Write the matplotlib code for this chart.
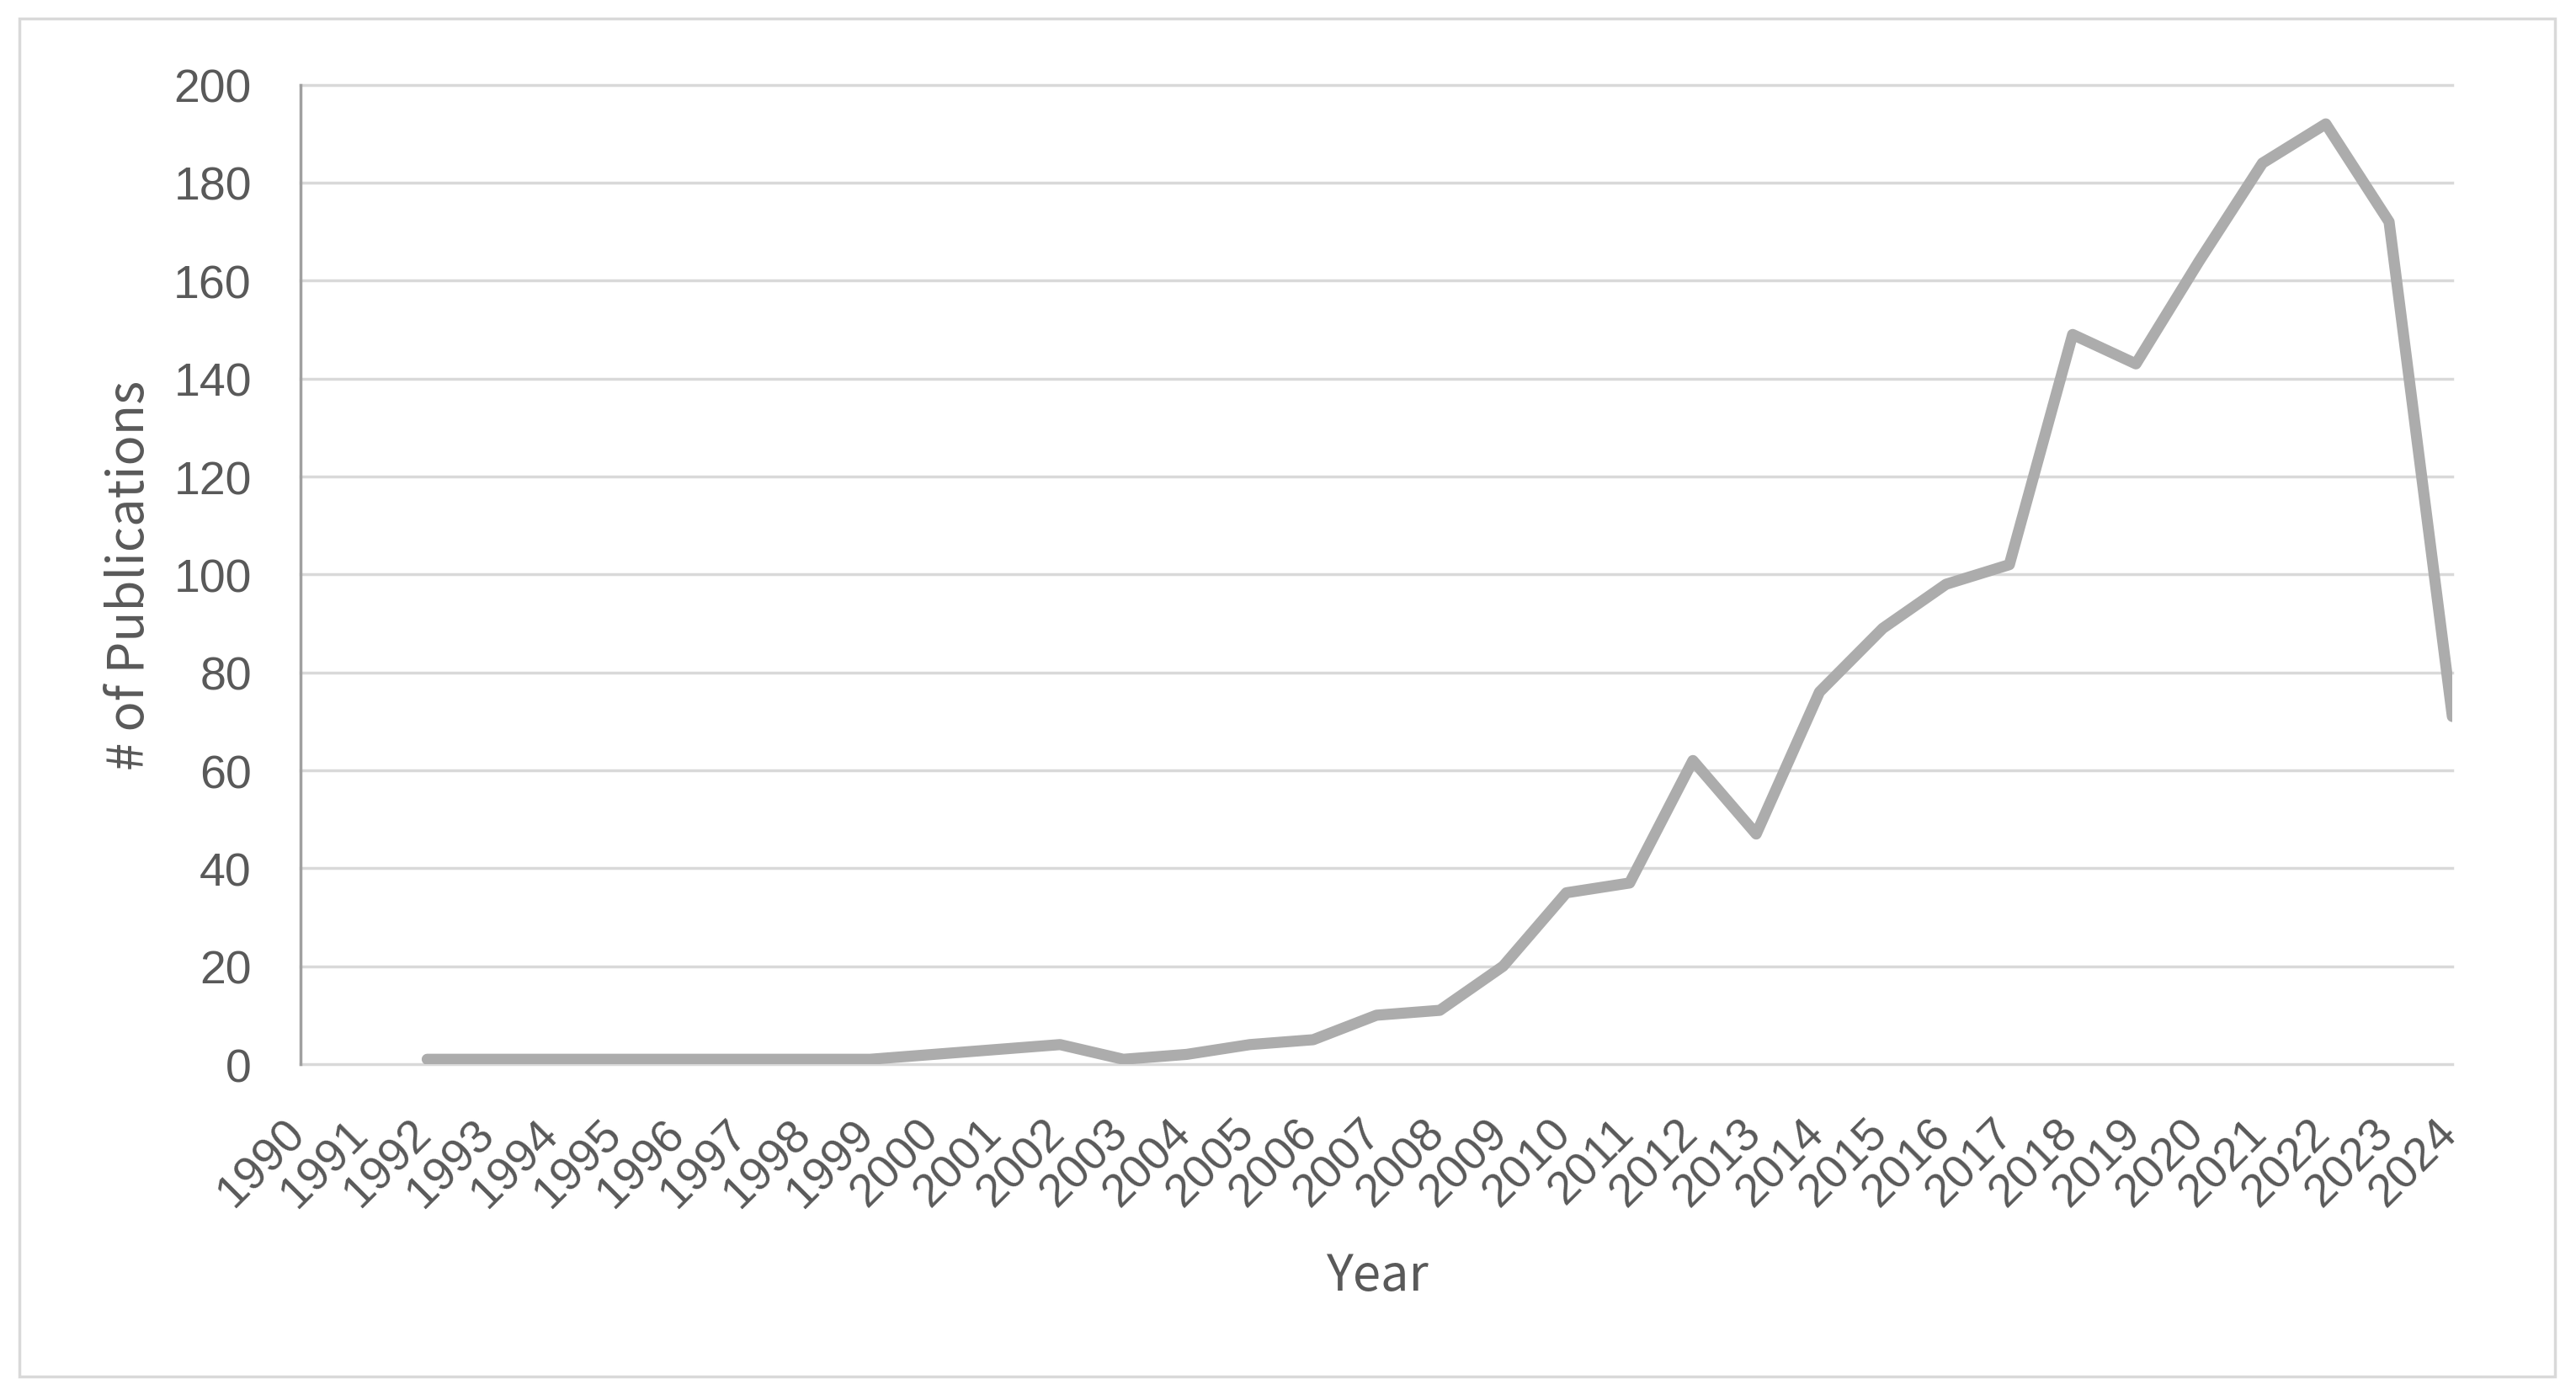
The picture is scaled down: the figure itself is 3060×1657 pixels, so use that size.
import matplotlib.pyplot as plt
import matplotlib.transforms as mtransforms
from matplotlib.patches import Rectangle

# category axis (all years shown as tick labels)
years = list(range(1990, 2025))
year_labels = [str(y) for y in years]

# publications per year (series starts in 1992)
pub_years = list(range(1992, 2025))
pub_counts = [1, 1, 1, 1, 1, 1, 1, 1,
              2, 3, 4, 1, 2, 4, 5, 10, 11, 20, 35, 37,
              62, 47, 76, 89, 98, 102, 149, 143, 164, 184, 192, 172, 71]

y_ticks = list(range(0, 201, 20))

text_color = "#595959"
grid_color = "#d9d9d9"
line_color = "#acacac"

fig = plt.figure(figsize=(30.6, 16.58), dpi=100)
ax = fig.add_axes([0.1167, 0.2370, 0.9520 - 0.1167, 0.9387 - 0.2370])

# horizontal gridlines (drawn unclipped so the 0 line is full width)
for yv in y_ticks:
    ax.axhline(yv, color=grid_color, linewidth=2.5, zorder=1, clip_on=False)

ax.plot(pub_years, pub_counts, color=line_color, linewidth=9.5,
        solid_capstyle="round", solid_joinstyle="round", zorder=3)

ax.set_xlim(1990, 2024)
ax.set_ylim(0, 200)

for side in ("top", "right", "bottom"):
    ax.spines[side].set_visible(False)
ax.spines["left"].set_color("#a0a0a0")
ax.spines["left"].set_linewidth(2.5)
ax.spines["left"].set_zorder(2)

ax.set_yticks(y_ticks)
ax.tick_params(axis="y", length=0, pad=42, labelsize=40, labelcolor=text_color)
ax.set_xticks(years)
ax.set_xticklabels(year_labels)
ax.tick_params(axis="x", length=0, pad=40, labelsize=40, labelcolor=text_color)

shift = mtransforms.ScaledTranslation(16 / 100, 0, fig.dpi_scale_trans)
for lbl in ax.get_xticklabels():
    lbl.set_rotation(45)
    lbl.set_ha("right")
    lbl.set_va("top")
    lbl.set_transform(lbl.get_transform() + shift)

for lbl in ax.get_xticklabels() + ax.get_yticklabels():
    lbl.set_fontfamily("Liberation Sans")

fig.text(0.5346, 0.0754, "Year", ha="center", va="baseline", fontsize=43,
         color=text_color, family=["Noto Sans CJK JP", "DejaVu Sans"])
fig.text(0.0505, 0.588, "# of Publications", ha="center", va="center",
         rotation=90, fontsize=43, color=text_color,
         family=["Noto Sans CJK JP", "DejaVu Sans"])

# chart area border
fig.patches.append(Rectangle((23 / 3060, 1 - 1636 / 1658),
                             (3035 - 23) / 3060, (1636 - 23) / 1658,
                             transform=fig.transFigure, fill=False,
                             edgecolor=grid_color, linewidth=2.5))

fig.savefig("out.png", dpi=100, facecolor="white")
plt.close(fig)
